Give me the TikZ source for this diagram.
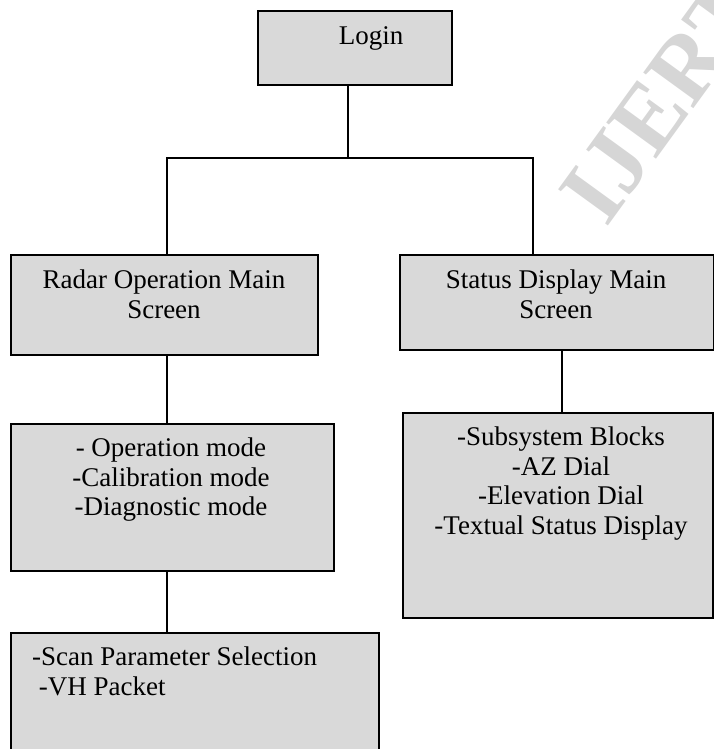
\documentclass[tikz,border=0pt]{standalone}
\usepackage{fontspec}
\setmainfont{Liberation Serif}
\definecolor{boxfill}{RGB}{217,217,217}
\definecolor{wmark}{RGB}{214,214,214}
\tikzset{
  box/.style={draw=black, line width=1.6pt, fill=boxfill, inner sep=0pt},
  txt/.style={inner sep=0pt, align=center, font=\fontsize{27}{29.5}\selectfont},
  conn/.style={draw=black, line width=1.6pt},
}
\begin{document}
\begin{tikzpicture}[x=1pt,y=-1pt]
\useasboundingbox (0,0) rectangle (714,749);
\clip (0,0) rectangle (714,749);
% watermark
\node[rotate=54, text=wmark, font=\fontsize{94}{94}\bfseries\selectfont, inner sep=0pt] (wm) at (662,100) {IJERT};
% boxes
\node[box, minimum width=194pt, minimum height=74pt, anchor=north west] (login) at (257,10) {};
\node[box, minimum width=307pt, minimum height=100pt, anchor=north west] (radar) at (10,254) {};
\node[box, minimum width=314pt, minimum height=95pt, anchor=north west] (status) at (399,254) {};
\node[box, minimum width=323pt, minimum height=147pt, anchor=north west] (ops) at (10,423) {};
\node[box, minimum width=310pt, minimum height=205pt, anchor=north west] (subsys) at (402,412) {};
\node[box, minimum width=368pt, minimum height=130pt, anchor=north west] (scan) at (10,632) {};
% texts
\node[txt, anchor=base] (tlogin) at (371,45) {Login};
\node[txt, anchor=north] (tradar) at (164,270) {Radar Operation Main\\Screen};
\node[txt, anchor=north] (tstatus) at (556,270) {Status Display Main\\Screen};
\node[txt, anchor=north] (tops) at (171,438) {- Operation mode\\-Calibration mode\\-Diagnostic mode};
\node[txt, anchor=north] (tsub) at (561,427) {-Subsystem Blocks\\-AZ Dial\\-Elevation Dial\\-Textual Status Display};
\node[txt, anchor=north west, align=left] (tscan) at (32,647) {-Scan Parameter Selection\\\ -VH Packet};
% connectors
\coordinate (j) at (348,158);
\coordinate (jl) at (167,158);
\coordinate (jr) at (533,158);
\draw[conn] (login.south -| j) -- (j);
\draw[conn] (radar.north -| jl) -- (jl) -- (jr) -- (status.north -| jr);
\draw[conn] (radar.south -| jl) -- (ops.north -| jl);
\draw[conn] (ops.south -| jl) -- (scan.north -| jl);
\coordinate (js) at (562,380);
\draw[conn] (status.south -| js) -- (subsys.north -| js);
\end{tikzpicture}
\end{document}
